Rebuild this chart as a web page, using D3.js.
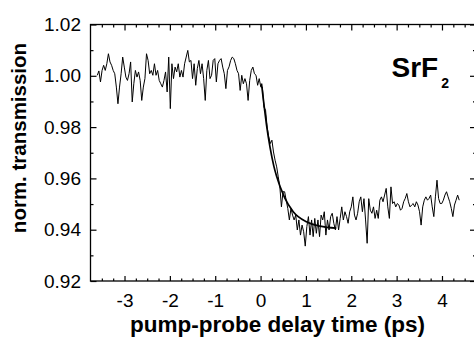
<!DOCTYPE html>
<html><head><meta charset="utf-8">
<script src="https://cdn.jsdelivr.net/npm/d3@7"></script>
<style>
html,body{margin:0;padding:0;background:#fff;}
svg{display:block;font-family:"Liberation Sans",Arial,Helvetica,sans-serif;}
</style></head>
<body><svg id="c" width="474" height="339"></svg>
<script>
// ---- data ----
const tStart = -3.6;   // ps, first sample
const tStep = 0.035;   // ps, sampling interval
const transmission = [
1.0002,1.0019,0.9976,1.0021,1.0041,1.0021,1.0047,1.0086,1.0054,1.0041,
1.0021,1.0008,0.9956,0.9891,0.9956,1.0008,1.0073,1.0034,0.9995,0.9982,
1.0008,1.0054,0.9898,0.9969,1.0021,0.9995,1.0015,0.9982,0.9904,0.9956,
0.9989,1.0086,1.0060,1.0008,1.0021,1.0002,1.0047,1.0002,1.0021,0.9982,
0.9969,0.9956,0.9982,1.0015,0.9937,1.0073,0.9872,1.0047,0.9989,1.0034,
1.0015,1.0047,0.9995,1.0021,0.9995,1.0047,1.0073,1.0099,1.0054,1.0060,
0.9989,1.0047,0.9963,1.0028,1.0060,1.0008,1.0047,0.9989,0.9904,1.0021,
1.0060,0.9989,1.0002,1.0060,1.0067,0.9976,1.0047,
1.0060,1.0067,1.0034,1.0008,0.9950,1.0021,1.0035,1.0060,1.0073,1.0067,
1.0047,1.0021,1.0008,0.9943,1.0002,0.9969,0.9989,0.9969,0.9904,0.9982,
1.0021,1.0034,1.0008,1.0002,0.9963,0.9989,0.9956,
0.9956,0.9878,0.9866,0.9800,0.9762,0.9736,0.9749,0.9703,0.9671,
0.9645,0.9606,0.9567,0.9489,0.9548,0.9548,0.9515,0.9483,0.9438,0.9483,
0.9457,0.9438,0.9457,0.9399,0.9438,0.9379,0.9418,0.9392,0.9336,0.9412,
0.9451,0.9379,0.9438,0.9373,0.9444,0.9386,0.9438,0.9373,0.9457,0.9438,
0.9470,0.9379,0.9438,0.9399,0.9451,0.9464,0.9425,0.9399,0.9451,
0.9399,0.9444,0.9489,0.9438,0.9470,0.9451,0.9425,0.9470,0.9489,0.9528,
0.9457,0.9438,0.9464,0.9509,0.9528,0.9470,0.9521,0.9438,0.9347,0.9521,
0.9476,0.9464,0.9489,0.9444,0.9476,0.9444,0.9515,0.9528,0.9509,0.9535,
0.9561,0.9489,0.9444,0.9567,0.9502,0.9509,0.9489,0.9502,0.9496,0.9476,
0.9483,0.9509,0.9522,0.9541,0.9509,0.9489,0.9496,0.9502,0.9489,0.9509,
0.9496,0.9470,0.9418,0.9489,0.9515,0.9528,0.9515,0.9522,0.9535,0.9489,
0.9451,0.9528,0.9593,0.9522,0.9502,0.9502,0.9515,0.9535,0.9548,0.9528,
0.9509,0.9483,0.9451,0.9496,0.9515,0.9535,0.9515
];
const fitTime = [0.02, 0.08, 0.13, 0.21, 0.29, 0.35, 0.53, 0.72, 1.01, 1.31, 1.67];
const fitValue = [0.997, 0.988, 0.981, 0.972, 0.965, 0.961, 0.9525, 0.947, 0.9431, 0.9414, 0.9406];
const xMajorTicks = [-3, -2, -1, 0, 1, 2, 3, 4];
const xTickLabels = ["-3", "-2", "-1", "0", "1", "2", "3", "4"];
const yMajorTicks = [0.92, 0.94, 0.96, 0.98, 1.00, 1.02];
const yTickLabels = ["0.92", "0.94", "0.96", "0.98", "1.00", "1.02"];
const xDomain = [-3.75, 4.75];
const yDomain = [0.92, 1.02];
const xTitle = "pump-probe delay time (ps)";
const yTitle = "norm. transmission";
const sampleName = "SrF";
const sampleSub = "2";

// ---- chart ----
const svg = d3.select("#c");
const x = d3.scaleLinear().domain(xDomain).range([90.5, 476]);
const y = d3.scaleLinear().domain(yDomain).range([281, 24.5]);

const xMinor = d3.range(-15, 20).map(k => k * 0.25).filter(v => v > xDomain[0] && v < xDomain[1] && !Number.isInteger(v));
const yMinor = [0.93, 0.95, 0.97, 0.99, 1.01];

function clean(g){ g.select(".domain").remove(); g.selectAll("line").attr("stroke","#000").attr("stroke-width",1.2); }
const labelStyle = g => g.selectAll("text").attr("font-size",19).attr("fill","#000").attr("font-family","Liberation Sans, Arial, sans-serif");

// bottom
svg.append("g").attr("transform",`translate(0,${y(yDomain[0])})`)
  .call(d3.axisBottom(x).tickValues(xMajorTicks).tickSize(-5).tickPadding(13).tickFormat((d,i)=>xTickLabels[i]))
  .call(clean).call(labelStyle);
svg.append("g").attr("transform",`translate(0,${y(yDomain[0])})`)
  .call(d3.axisBottom(x).tickValues(xMinor).tickSize(-2.5).tickFormat(""))
  .call(clean);
// top
svg.append("g").attr("transform",`translate(0,${y(yDomain[1])})`)
  .call(d3.axisTop(x).tickValues(xMajorTicks).tickSize(-6).tickFormat(""))
  .call(clean);
svg.append("g").attr("transform",`translate(0,${y(yDomain[1])})`)
  .call(d3.axisTop(x).tickValues(xMinor).tickSize(-3).tickFormat(""))
  .call(clean);
// left
svg.append("g").attr("transform",`translate(${x(xDomain[0])},0)`)
  .call(d3.axisLeft(y).tickValues(yMajorTicks).tickSize(-6).tickPadding(9.5).tickFormat((d,i)=>yTickLabels[i]))
  .call(clean).call(labelStyle);
svg.append("g").attr("transform",`translate(${x(xDomain[0])},0)`)
  .call(d3.axisLeft(y).tickValues(yMinor).tickSize(-3).tickFormat(""))
  .call(clean);
// right
svg.append("g").attr("transform",`translate(${x(xDomain[1])},0)`)
  .call(d3.axisRight(y).tickValues(yMajorTicks).tickSize(-6).tickFormat(""))
  .call(clean);
svg.append("g").attr("transform",`translate(${x(xDomain[1])},0)`)
  .call(d3.axisRight(y).tickValues(yMinor).tickSize(-3).tickFormat(""))
  .call(clean);

// frame
svg.append("rect")
  .attr("x", x(xDomain[0])).attr("y", y(yDomain[1]))
  .attr("width", x(xDomain[1]) - x(xDomain[0])).attr("height", y(yDomain[0]) - y(yDomain[1]))
  .attr("fill","none").attr("stroke","#000").attr("stroke-width",1.3);

// data line
const pts = transmission.map((v,i)=>[tStart + i*tStep, v]);
svg.append("path").datum(pts)
  .attr("fill","none").attr("stroke","#000").attr("stroke-width",1).attr("stroke-linejoin","round")
  .attr("d", d3.line().x(d=>x(d[0])).y(d=>y(d[1])));

// fit line
const fit = fitTime.map((t,i)=>[t, fitValue[i]]);
svg.append("path").datum(fit)
  .attr("fill","none").attr("stroke","#000").attr("stroke-width",1.7)
  .attr("d", d3.line().curve(d3.curveMonotoneX).x(d=>x(d[0])).y(d=>y(d[1])));

// label
const lab = svg.append("text").attr("x",391.5).attr("y",77).attr("font-weight","bold").attr("fill","#000");
lab.append("tspan").attr("font-size",28).text(sampleName);
lab.append("tspan").attr("font-size",14).attr("dx",3).attr("dy",11).text(sampleSub);

// axis titles
svg.append("text").attr("x",277.5).attr("y",332).attr("text-anchor","middle")
  .attr("font-weight","bold").attr("font-size",22.5).attr("fill","#000").text(xTitle);
svg.append("text").attr("transform","translate(25.5,138) rotate(-90)").attr("text-anchor","middle")
  .attr("font-weight","bold").attr("font-size",20.5).attr("fill","#000").text(yTitle);
</script></body></html>
